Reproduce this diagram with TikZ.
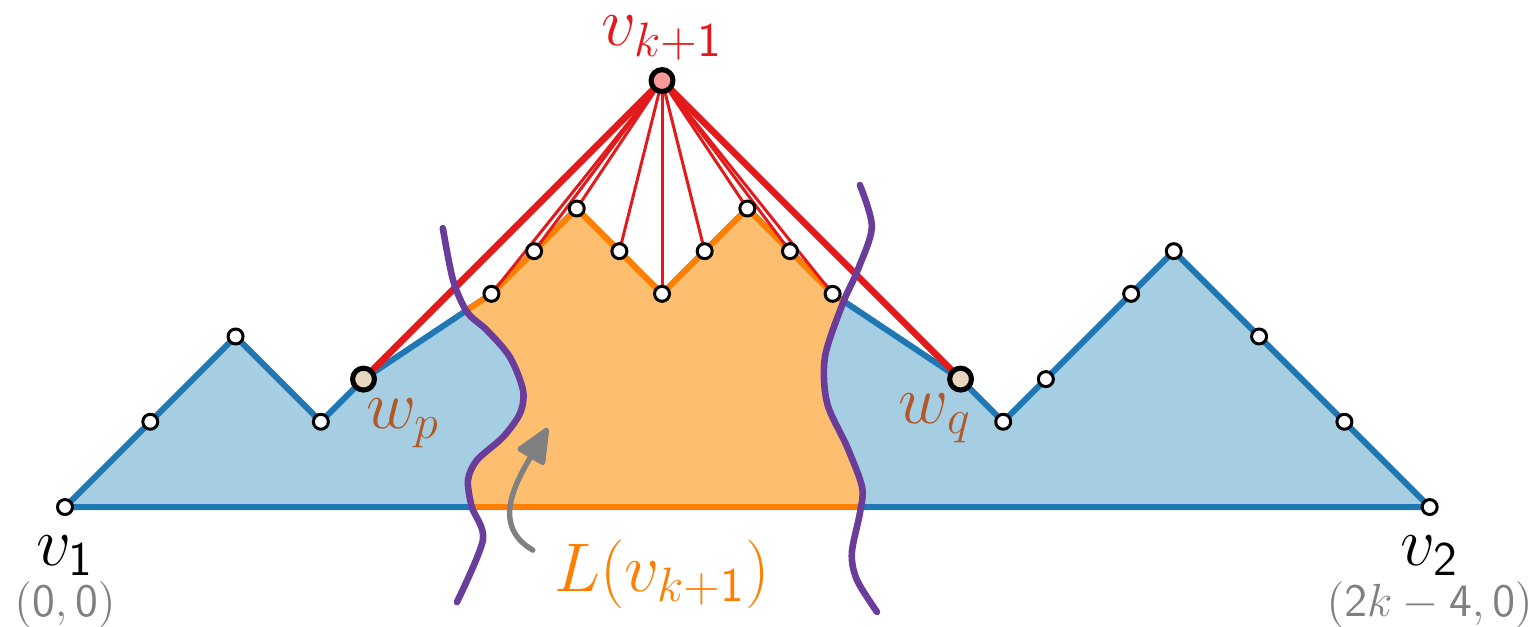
\RequirePackage{fix-cm}
\documentclass[tikz,border=0pt]{standalone}
\usetikzlibrary{arrows.meta,positioning}
\definecolor{polyblue}{HTML}{1F78B4}
\definecolor{polyfill}{HTML}{A6CEE3}
\definecolor{orgline}{HTML}{FF7F00}
\definecolor{orgfill}{HTML}{FDBF6F}
\definecolor{edgered}{HTML}{E31A1C}
\definecolor{cutpurple}{HTML}{6A3D9A}
\definecolor{toppink}{HTML}{FB9A99}
\definecolor{wbeige}{HTML}{E6D8BD}
\definecolor{wbrown}{HTML}{B15928}
\tikzset{
  vtx/.style={circle,draw=black,fill=white,line width=1pt,minimum size=5pt,inner sep=0pt},
  bigvtx/.style={circle,draw=black,line width=1.7pt,minimum size=7.3pt,inner sep=0pt},
  lbl/.style={inner sep=0pt,font=\fontsize{23}{27}\selectfont},
  coordlbl/.style={inner sep=0pt,text=gray,font=\fontsize{15.5}{18}\selectfont},
  cutline/.style={cutpurple,line width=2.2pt},
}
\begin{document}
\begin{tikzpicture}[x=0.50cm,y=0.50cm,line cap=round,line join=round]
  \useasboundingbox (-1.524,-2.79) rectangle (34.47,11.89);
  \foreach \n/\x/\y in {v1/0/0,a/2/2,b/4/4,c/6/2,wp/7/3,d10/10/5,d11/11/6,d12/12/7,d13/13/6,d14/14/5,
      d15/15/6,d16/16/7,d17/17/6,d18/18/5,wq/21/3,e/22/2,f/23/3,g/25/5,h/26/6,i/28/4,j/30/2,v2/32/0,top/14/10}
    \coordinate (\n) at (\x,\y);
  % the polygon
  \fill[polyfill] (v1) -- (b) -- (c) -- (wp) -- (d10) -- (d12) -- (d14) -- (d16) -- (d18) -- (wq) -- (e) -- (h) -- (v2) -- cycle;
  \draw[polyblue,line width=2pt] (v1) -- (b) -- (c) -- (wp) -- (d10) -- (d12) -- (d14) -- (d16) -- (d18) -- (wq) -- (e) -- (h) -- (v2) -- cycle;
  % part between the two cuts
  \begin{scope}
    \clip plot[smooth] coordinates {(8.86,6.54) (9.10,5.32) (9.43,4.57) (9.89,4.15) (10.43,3.52) (10.74,2.74) (10.67,2.20) (10.27,1.64) (9.66,1.10) (9.45,0.63) (9.54,0) (9.80,-0.77) (9.19,-2.23)}
      -- plot[smooth] coordinates {(19.04,-2.46) (18.57,-1.71) (18.45,-1.08) (18.64,-0.14) (18.69,0.47) (18.34,1.41) (17.87,2.44) (17.82,3.52) (18.24,4.78) (18.59,5.56) (18.92,6.57) (18.64,7.55)}
      -- (19,12) -- (8.5,12) -- cycle;
    \fill[orgfill] (v1) -- (b) -- (c) -- (wp) -- (d10) -- (d12) -- (d14) -- (d16) -- (d18) -- (wq) -- (e) -- (h) -- (v2) -- cycle;
    \draw[orgline,line width=2pt] (wp) -- (d10) -- (d12) -- (d14) -- (d16) -- (d18) -- (wq);
    \draw[orgline,line width=2pt] (v1) -- (v2);
  \end{scope}
  % edges of v_{k+1}
  \foreach \n in {d10,d11,d12,d13,d14,d15,d16,d17,d18}
    \draw[edgered,line width=1pt] (top) -- (\n);
  \draw[edgered,line width=2.2pt] (wp) -- (top) -- (wq);
  % cuts
  \draw[cutline] plot[smooth] coordinates {(8.86,6.54) (9.10,5.32) (9.43,4.57) (9.89,4.15) (10.43,3.52) (10.74,2.74) (10.67,2.20) (10.27,1.64) (9.66,1.10) (9.45,0.63) (9.54,0) (9.80,-0.77) (9.19,-2.23)};
  \draw[cutline] plot[smooth] coordinates {(18.64,7.55) (18.92,6.57) (18.59,5.56) (18.24,4.78) (17.82,3.52) (17.87,2.44) (18.34,1.41) (18.69,0.47) (18.64,-0.14) (18.45,-1.08) (18.57,-1.71) (19.04,-2.46)};
  \coordinate (arrS) at (10.97,-1.01);
  \coordinate (arrE) at (11.32,1.85);
  \draw[gray,line width=1.8pt,-{Triangle[width=11pt,length=13pt,round]}] (arrS) .. controls (10.0,-0.45) and (10.55,0.55) .. (arrE);
  % vertices
  \foreach \n in {v1,a,b,c,d10,d11,d12,d13,d14,d15,d16,d17,d18,e,f,g,h,i,j,v2}
    \node[vtx] (m\n) at (\n) {};
  \node[bigvtx,fill=wbeige] (mwp) at (wp) {};
  \node[bigvtx,fill=wbeige] (mwq) at (wq) {};
  \node[bigvtx,fill=toppink] (mtop) at (top) {};
  % labels
  \node[lbl,text=edgered] (ltop) at ([yshift=0.5cm]top) {$v_{k+\mathsf{1}}$};
  \node[lbl,text=wbrown] (lwp) at ([xshift=0.46cm,yshift=-0.52cm]wp) {$w_p$};
  \node[lbl,text=wbrown] (lwq) at ([xshift=-0.3cm,yshift=-0.46cm]wq) {$w_q$};
  \node[lbl] (lv1) at ([yshift=-0.57cm]v1) {$v_{\mathsf{1}}$};
  \node[coordlbl] (cv1) at ([yshift=-1.15cm]v1) {$(\mathsf{0},\mathsf{0})$};
  \node[lbl] (lv2) at ([yshift=-0.57cm]v2) {$v_{\mathsf{2}}$};
  \node[coordlbl] (cv2) at ([yshift=-1.15cm]v2) {$(\mathsf{2}k-\mathsf{4},\mathsf{0})$};
  \node[lbl,text=orgline] (lL) at (14,-1.57) {$L(v_{k+\mathsf{1}})$};
\end{tikzpicture}
\end{document}
